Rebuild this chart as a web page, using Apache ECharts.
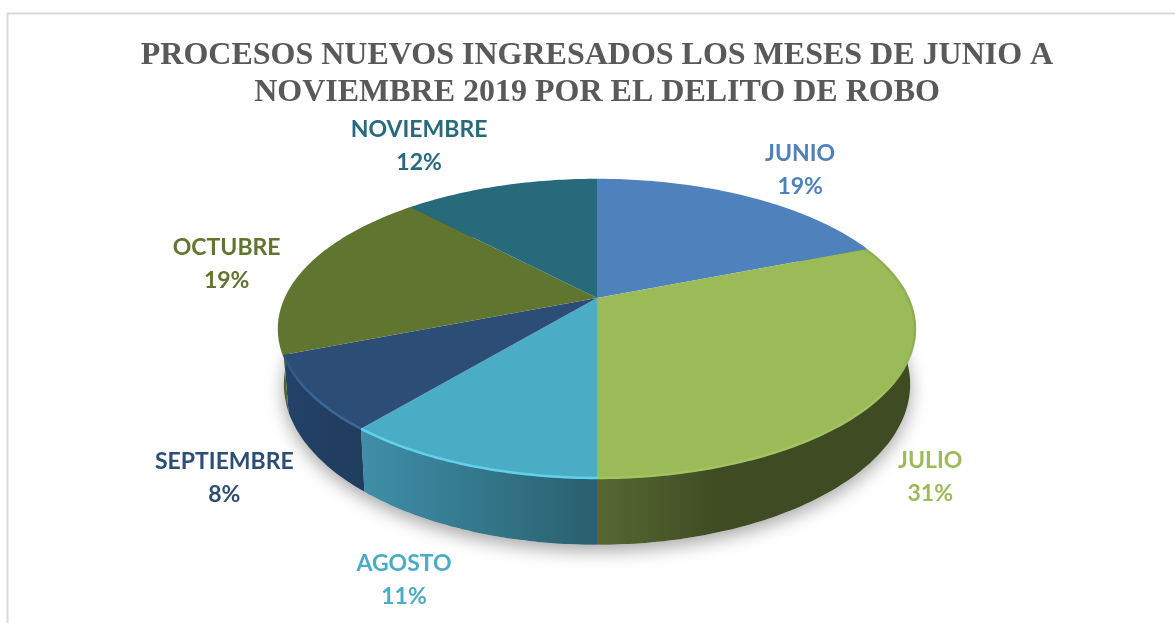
<!DOCTYPE html>
<html>
<head>
<meta charset="utf-8">
<title>Procesos nuevos por robo</title>
<style>
  html, body { margin: 0; padding: 0; background: #fff; }
  #chart { width: 1175px; height: 623px; }
</style>
</head>
<body>
<div id="chart"></div>
<script src="https://cdn.jsdelivr.net/npm/echarts@6/dist/echarts.min.js"></script>
<script>
// datos
const months = ["JUNIO", "JULIO", "AGOSTO", "SEPTIEMBRE", "OCTUBRE", "NOVIEMBRE"];
const shares = [19, 31, 11, 8, 19, 12];

// colores
const topColors = ["#4f81bd", "#9bbb59", "#4bacc6", "#2c4d75", "#5f7530", "#276a7c"];
const wallColors = [
  ["#3a5f8c", "#3a5f8c"],
  ["#566832", "#3f4b22"],
  ["#3f8fa8", "#2a5f6e"],
  ["#234268", "#203c5e"],
  ["#4f6228", "#4f6228"],
  ["#1e5565", "#1e5565"],
];
const rimColors = ["#4f81bd", "#a4c362", "#62d2ec", "#3a6798", "#6b8237", "#276a7c"];
const farRimColors = ["#4f81bd", "#90ad52", "#4bacc6", "#2c4d75", "#5f7530", "#276a7c"];

// perspectiva del disco
const cx = 597;
const cy = 298;
const rx = 311;
const ry = 142.5;
const tilt = 0.208;
const depth = 53;
const baseShrink = 0.985; // la base se ve un poco mas estrecha

// desplazamiento de cada etiqueta desde el borde de su sector
const labelNudge = [[54, -27.5], [42, 88.5], [-62, 115.5], [-86, 84.5], [-80, -4], [-82, -41]];

const total = shares.reduce((a, b) => a + b, 0);

function project(angle, drop) {
  const u = Math.sin(angle);
  const v = -Math.cos(angle);
  const w = 1 - tilt * v;
  const scale = drop > 0 ? baseShrink : 1;
  return [cx + (rx * scale * u) / w, cy + (ry * v) / w + drop / w];
}

function arc(from, to, drop) {
  const pts = [];
  const steps = Math.max(8, Math.ceil((to - from) * 60));
  for (let i = 0; i <= steps; i++) {
    pts.push(project(from + ((to - from) * i) / steps, drop));
  }
  return pts;
}

function renderSlice(params, api) {
  const i = params.dataIndex;
  const before = shares.slice(0, i).reduce((a, b) => a + b, 0);
  const from = (before / total) * Math.PI * 2;
  const to = ((before + api.value(0)) / total) * Math.PI * 2;
  const mid = (from + to) / 2;

  const edge = arc(from, to, 0);
  const lower = arc(from, to, depth);
  const xs = edge.map((p) => p[0]);
  const children = [];

  // sombra bajo el disco
  if (i === 0) {
    children.push({
      type: "polygon",
      z2: 0,
      shape: { points: arc(0, Math.PI * 2, depth) },
      style: {
        fill: "#fff",
        shadowBlur: 18,
        shadowOffsetY: 6,
        shadowColor: "rgba(0,0,0,0.35)",
      },
    });
  }

  // pared lateral
  children.push({
    type: "polygon",
    z2: 1,
    shape: { points: edge.concat(lower.slice().reverse()) },
    style: {
      fill: {
        type: "linear",
        global: true,
        x: Math.min(...xs),
        y: 0,
        x2: Math.max(...xs),
        y2: 0,
        colorStops: i === 1
          ? [{ offset: 0, color: wallColors[i][0] }, { offset: 0.39, color: wallColors[i][1] }, { offset: 1, color: wallColors[i][1] }]
          : [{ offset: 0, color: wallColors[i][0] }, { offset: 1, color: wallColors[i][1] }],
      },
    },
  });

  // cara superior
  children.push({
    type: "polygon",
    z2: 10,
    shape: { points: [[cx, cy]].concat(edge) },
    style: { fill: topColors[i] },
  });

  // brillo del borde: solo en la parte delantera
  children.push({
    type: "polyline",
    z2: 11,
    shape: { points: edge },
    style: {
      fill: null,
      lineWidth: 2.5,
      stroke: {
        type: "linear",
        global: true,
        x: 0,
        y: 300,
        x2: 0,
        y2: 400,
        colorStops: [
          { offset: 0, color: farRimColors[i] },
          { offset: 0.4, color: farRimColors[i] },
          { offset: 1, color: rimColors[i] },
        ],
      },
    },
  });

  const anchor = project(mid, 0);
  children.push({
    type: "text",
    z2: 20,
    x: anchor[0] + labelNudge[i][0],
    y: anchor[1] + labelNudge[i][1],
    style: {
      text: months[i] + "\n" + api.value(0) + "%",
      fill: topColors[i],
      font: "bold 23px Lato",
      lineHeight: 33,
      align: "center",
      verticalAlign: "middle",
    },
  });

  return { type: "group", children: children };
}

const chart = echarts.init(document.getElementById("chart"));
chart.setOption({
  animation: false,
  backgroundColor: "#fff",
  title: {
    text: "PROCESOS NUEVOS INGRESADOS LOS MESES DE JUNIO A\nNOVIEMBRE 2019 POR EL DELITO DE ROBO",
    left: 592,
    top: 32,
    textAlign: "center",
    textStyle: {
      fontFamily: "Liberation Serif",
      fontWeight: "bold",
      fontSize: 32,
      lineHeight: 37,
      color: "#595959",
    },
  },
  graphic: [
    {
      type: "polyline",
      silent: true,
      shape: { points: [[7.5, 623], [7.5, 13.5], [1175, 13.5]] },
      style: { fill: null, stroke: "#d9d9d9", lineWidth: 2 },
    },
  ],
  series: [
    {
      type: "custom",
      coordinateSystem: "none",
      silent: true,
      data: shares,
      renderItem: renderSlice,
    },
  ],
});
</script>
</body>
</html>
